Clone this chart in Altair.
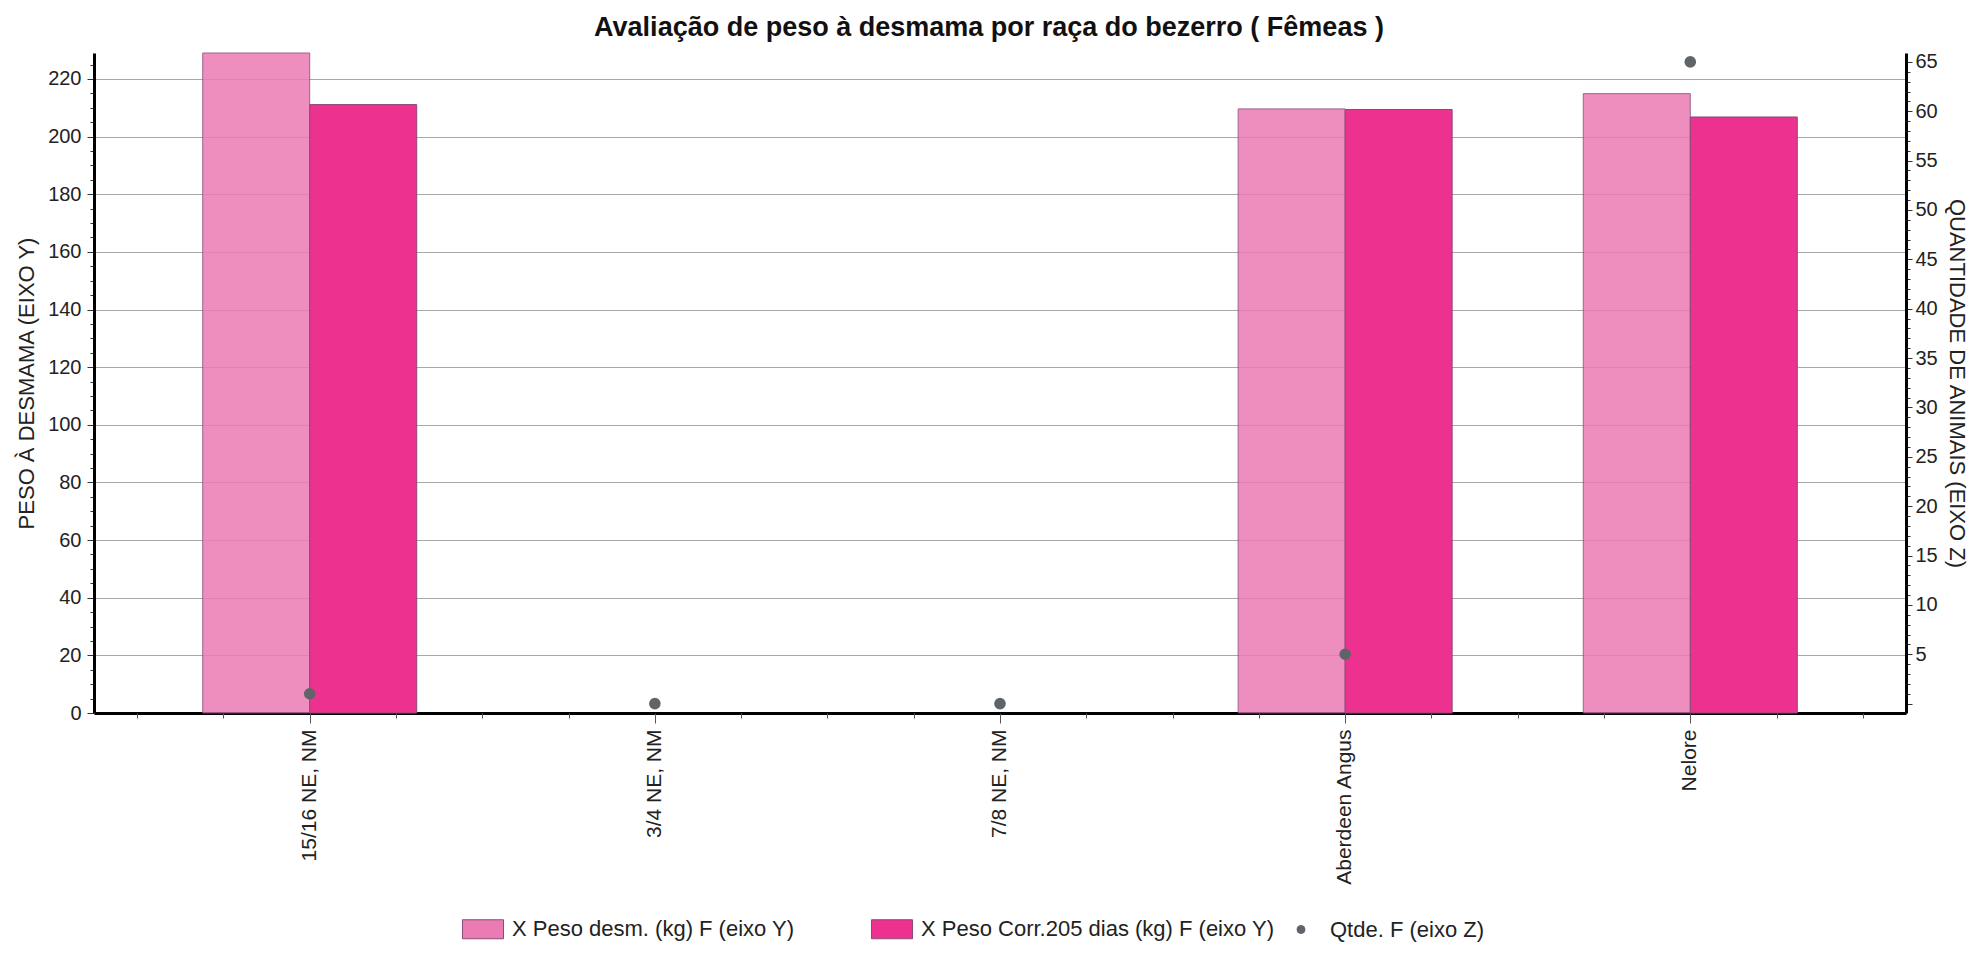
import altair as alt
import pandas as pd

# ---- data ----
categories = ["15/16 NE, NM", "3/4 NE, NM", "7/8 NE, NM", "Aberdeen Angus", "Nelore"]
peso_desm = [229.0, None, None, 209.6, 214.9]          # X Peso desm. (kg) F  (eixo Y)
peso_corr = [211.1, None, None, 209.4, 206.8]          # X Peso Corr.205 dias (kg) F (eixo Y)
qtde = [1, 0, 0, 5, 65]                                # Qtde. F (eixo Z)

series_names = ["X Peso desm. (kg) F (eixo Y)",
                "X Peso Corr.205 dias (kg) F (eixo Y)",
                "Qtde. F (eixo Z)"]
series_colors = ["#EB7BB3", "#EC318F", "#5F6468"]

left_ticks = list(range(0, 230, 5))
right_ticks = list(range(0, 66))
x_minor = [i / 4 for i in range(-2, 19)]

title_text = "Avaliação de peso à desmama por raça do bezerro ( Fêmeas )"
y_title = "PESO À DESMAMA (EIXO Y)"
z_title = "QUANTIDADE DE ANIMAIS (EIXO Z)"

# ---- tables ----
bar_rows = []
for c, a, b in zip(categories, peso_desm, peso_corr):
    bar_rows.append({"cat": c, "series": series_names[0], "value": a})
    bar_rows.append({"cat": c, "series": series_names[1], "value": b})
bars_df = pd.DataFrame(bar_rows)

pts_df = pd.DataFrame({"cat": categories, "qtde": qtde,
                       "series": series_names[2],
                       "idx": list(range(len(categories)))})

FONT = "Liberation Sans"
TXT = "#222222"
DOT = "datum.value === 'Qtde. F (eixo Z)'"

band = alt.Scale(domain=categories, paddingInner=0.38, paddingOuter=0.315)
color_scale = alt.Scale(domain=series_names, range=series_colors)

legend = alt.Legend(
    title=None, orient="none", direction="horizontal",
    legendX=378, legendY=865, padding=0, gridAlign="all",
    labelFontSize=22, labelFont=FONT, labelColor=TXT, labelLimit=500,
    columnPadding=3, labelOffset=18,
    symbolType={"expr": DOT + " ? 'circle' : 'M-2.16,-1H2.16V1H-2.16Z'"},
    symbolSize={"expr": DOT + " ? 64 : 361"},
    symbolStrokeColor={"expr": DOT + " ? '#5F6468' : '#8A4A78'"},
    symbolStrokeWidth=1, symbolOpacity=1,
)

bars = alt.Chart(bars_df).mark_bar(stroke="#8A4A78", strokeWidth=1).encode(
    x=alt.X("cat:N", scale=band, sort=categories,
            axis=alt.Axis(title=None, labelAngle=-90, labelFontSize=21, labelFont=FONT,
                          labelColor=TXT, ticks=False, tickSize=0, labelPadding=16,
                          domainWidth=3, domainColor="#000000", grid=False,
                          labelOverlap=False, labelLimit=400)),
    xOffset=alt.XOffset("series:N", sort=series_names[:2],
                        scale=alt.Scale(domain=series_names[:2], paddingInner=0, paddingOuter=0)),
    y=alt.Y("value:Q", scale=alt.Scale(domain=[0, 229], nice=False, zero=True),
            axis=alt.Axis(orient="left", title=y_title, values=left_ticks,
                          labelExpr="datum.value % 20 == 0 ? datum.label : ''",
                          labelFontSize=20, labelFont=FONT, labelColor=TXT,
                          labelOverlap=False, labelFlush=False, labelPadding=6,
                          tickSize={"condition": {"test": "datum.value % 20 == 0", "value": 7}, "value": 4},
                          tickColor="#333333", tickWidth=1,
                          domainWidth=3, domainColor="#000000",
                          grid=True, gridColor="#A8A8A8", gridWidth=1,
                          gridOpacity={"condition": {"test": "datum.value % 20 == 0 && datum.value > 0", "value": 1}, "value": 0},
                          titleFontSize=22, titleFont=FONT, titleFontWeight="normal",
                          titleColor=TXT, titlePadding=9)),
    color=alt.Color("series:N", scale=color_scale, legend=legend),
    opacity=alt.condition(alt.datum.series == series_names[0], alt.value(0.85), alt.value(1.0)),
)

# the points sit on the category centres; their x scale also carries the minor ticks
points = alt.Chart(pts_df).mark_point(filled=True, size=135, opacity=1).encode(
    x=alt.X("idx:Q", scale=alt.Scale(domain=[-0.625, 4.625], nice=False, zero=False),
            axis=alt.Axis(orient="bottom", title=None, values=x_minor, labels=False,
                          domain=False, grid=False, tickColor="#555555", tickWidth=1,
                          tickSize={"condition": {"test": "datum.value % 1 == 0", "value": 10}, "value": 5})),
    y=alt.Y("qtde:Q", scale=alt.Scale(domain=[-0.95, 65.9], nice=False, zero=False),
            axis=alt.Axis(orient="right", title=z_title, values=right_ticks,
                          labelExpr="datum.value % 5 == 0 && datum.value > 0 ? datum.label : ''",
                          labelFontSize=20, labelFont=FONT, labelColor=TXT,
                          labelOverlap=False, labelFlush=False, labelPadding=3,
                          tickSize={"condition": {"test": "datum.value % 5 == 0", "value": 6}, "value": 4},
                          tickColor="#333333", tickWidth=1,
                          domainWidth=3, domainColor="#000000", grid=False,
                          titleFontSize=22, titleFont=FONT, titleFontWeight="normal",
                          titleColor=TXT, titlePadding=7, titleAngle=90)),
    color=alt.Color("series:N", scale=color_scale, legend=legend),
)

chart = alt.layer(bars, points).resolve_scale(
    x="independent", y="independent"
).properties(
    width=1812, height=660,
    autosize=alt.AutoSizeParams(type="none"),
    padding={"left": 86, "top": 45, "right": 63, "bottom": 235},
    title=alt.Title(title_text, fontSize=27, fontWeight="bold", font=FONT, color="#111111",
                    anchor="middle", dx=-11, offset=10),
).configure(font=FONT).configure_view(stroke=None)

chart.save("out.html", embed_options={"renderer": "svg", "actions": False})
